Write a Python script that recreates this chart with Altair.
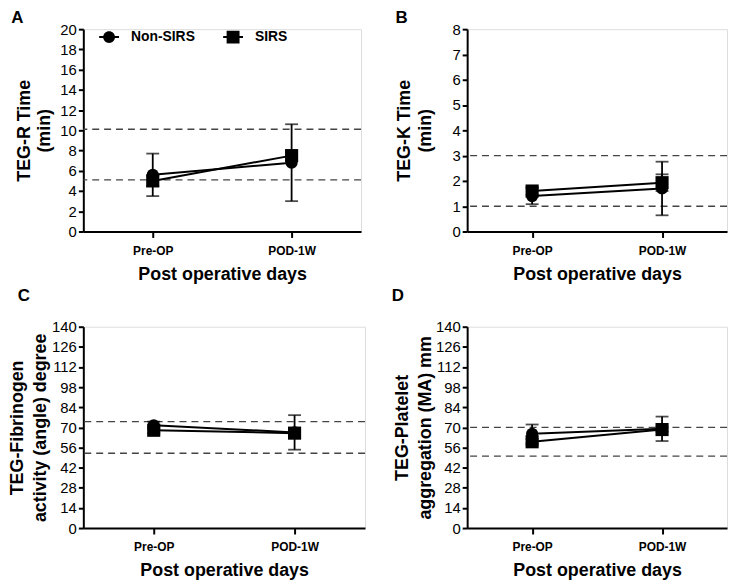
import altair as alt
import pandas as pd

categories = ["Pre-OP", "POD-1W"]
groups = ["Non-SIRS", "SIRS"]

# Panel A: TEG-R time (min)
a_non_mean = [5.6, 6.8]
a_non_sd = [2.1, 3.8]
a_sirs_mean = [5.0, 7.5]
a_sirs_sd = [0.5, 0.5]
a_ref = [5.1, 10.1]

# Panel B: TEG-K time (min)
b_non_mean = [1.4, 1.7]
b_non_sd = [0.32, 1.06]
b_sirs_mean = [1.6, 1.93]
b_sirs_sd = [0.15, 0.33]
b_ref = [1.0, 3.0]

# Panel C: angle (degree)
c_non_mean = [71.5, 66.5]
c_non_sd = [2.5, 12.0]
c_sirs_mean = [68.0, 66.0]
c_sirs_sd = [2.0, 1.5]
c_ref = [52.0, 74.0]

# Panel D: MA (mm)
d_non_mean = [65.5, 69.0]
d_non_sd = [6.5, 8.5]
d_sirs_mean = [60.0, 68.5]
d_sirs_sd = [2.0, 1.5]
d_ref = [50.0, 70.0]

FONT = "Liberation Sans"
circle_path = "M-1,-0.1H1V0.1H-1Z M0.6,0A0.6,0.6,0,1,1,-0.6,0A0.6,0.6,0,1,1,0.6,0Z"
square_path = "M-1,-0.1H1V0.1H-1Z M-0.65,-0.65H0.65V0.65H-0.65Z"


def make_panel(letter, non_mean, non_sd, sirs_mean, sirs_sd, ref, ymax, ystep, ytitle, w, h,
               tpad, lh, tdx, toff):
    rows = []
    for g, means, sds in [(groups[0], non_mean, non_sd), (groups[1], sirs_mean, sirs_sd)]:
        for c, m, s in zip(categories, means, sds):
            rows.append({"group": g, "cat": c, "mean": m, "lo": m - s, "hi": m + s})
    df = pd.DataFrame(rows)
    caps = pd.concat([
        df[["group", "cat", "lo"]].rename(columns={"lo": "v"}),
        df[["group", "cat", "hi"]].rename(columns={"hi": "v"}),
    ])
    refdf = pd.DataFrame({"ref": ref})

    yscale = alt.Scale(domain=[0, ymax], nice=False, zero=True)
    yaxis = alt.Axis(
        values=[round(i * ystep, 6) for i in range(int(round(ymax / ystep)) + 1)],
        grid=False, domainColor="black", domainWidth=2, tickColor="black", tickWidth=2,
        tickSize=5, labelFont=FONT, labelFontSize=15, labelColor="black", labelPadding=2,
        titleFont=FONT, titleFontSize=18, titleFontWeight="bold", titleColor="black",
        titleLineHeight=lh, titlePadding=tpad, format="d",
    )
    xscale = alt.Scale(type="point", domain=categories, padding=0.5)
    xaxis = alt.Axis(
        grid=False, domainColor="black", domainWidth=2, tickColor="black", tickWidth=2,
        tickSize=6, labelFont=FONT, labelFontSize=12, labelFontWeight="bold",
        labelColor="black", labelPadding=8, labelAngle=0,
        titleFont=FONT, titleFontSize=18, titleFontWeight="bold", titleColor="black",
        titlePadding=9,
    )

    def Y(field):
        return alt.Y(field, type="quantitative", scale=yscale, axis=yaxis, title=ytitle)

    def X():
        return alt.X("cat:N", scale=xscale, axis=xaxis, title="Post operative days", sort=categories)

    refs = alt.Chart(refdf).mark_rule(color="#444444", strokeWidth=1.4, strokeDash=[7, 5]).encode(y=Y("ref"))
    bars = alt.Chart(df).mark_rule(color="black", strokeWidth=1.8).encode(x=X(), y=Y("lo"), y2="hi")
    capm = alt.Chart(caps).mark_tick(color="black", thickness=1.8, size=13).encode(x=X(), y=Y("v"))
    lines = alt.Chart(df).mark_line(color="black", strokeWidth=2).encode(x=X(), y=Y("mean"), detail="group:N")
    pts_non = alt.Chart(df[df.group == groups[0]]).mark_point(
        shape="circle", filled=True, color="black", opacity=1, size=150).encode(x=X(), y=Y("mean"))
    pts_sirs = alt.Chart(df[df.group == groups[1]]).mark_point(
        shape="square", filled=True, color="black", opacity=1, size=175).encode(x=X(), y=Y("mean"))
    leg = alt.Chart(df).mark_point(filled=True, color="black", opacity=0).encode(
        x=X(), y=Y("mean"),
        shape=alt.Shape("group:N", scale=alt.Scale(domain=groups, range=[circle_path, square_path]),
                        legend=alt.Legend(
                            title=None, orient="none", legendX=16, legendY=-2, direction="horizontal",
                            labelFont=FONT, labelFontSize=14, labelFontWeight="bold", labelColor="black",
                            symbolSize=400, symbolFillColor="black", symbolStrokeColor="black",
                            symbolStrokeWidth=0, symbolOpacity=1, labelOffset=12, columnPadding=28,
                            padding=0)),
    )
    return alt.layer(refs, bars, capm, lines, pts_non, pts_sirs, leg).properties(
        width=w, height=h,
        title=alt.TitleParams(letter, anchor="start", frame="bounds", font=FONT, fontSize=17,
                              fontWeight="bold", color="black", offset=toff, dx=tdx),
    )


pA = make_panel("A", a_non_mean, a_non_sd, a_sirs_mean, a_sirs_sd, a_ref, 20, 2,
                ["TEG-R Time", "(min)"], 280, 204, 6, 21, -4, -5)
pB = make_panel("B", b_non_mean, b_non_sd, b_sirs_mean, b_sirs_sd, b_ref, 8, 1,
                ["TEG-K Time", "(min)"], 262, 204, 18, 21, 0, -5)
pC = make_panel("C", c_non_mean, c_non_sd, c_sirs_mean, c_sirs_sd, c_ref, 140, 14,
                ["TEG-Fibrinogen", "activity (angle) degree"], 284, 203, 2, 23, 9, 15)
pD = make_panel("D", d_non_mean, d_non_sd, d_sirs_mean, d_sirs_sd, d_ref, 140, 14,
                ["TEG-Platelet", "aggregation (MA) mm"], 262, 203, 1, 23, -2, 15)

chart = alt.concat(pA, pB, pC, pD, columns=2, spacing={"row": 2, "column": 24}).configure_view(
    stroke=None
).configure(
    padding={"left": 8, "top": 6, "right": 0, "bottom": 0},
    background="white",
)

chart.save("out.html", embed_options={"renderer": "svg", "actions": False})
